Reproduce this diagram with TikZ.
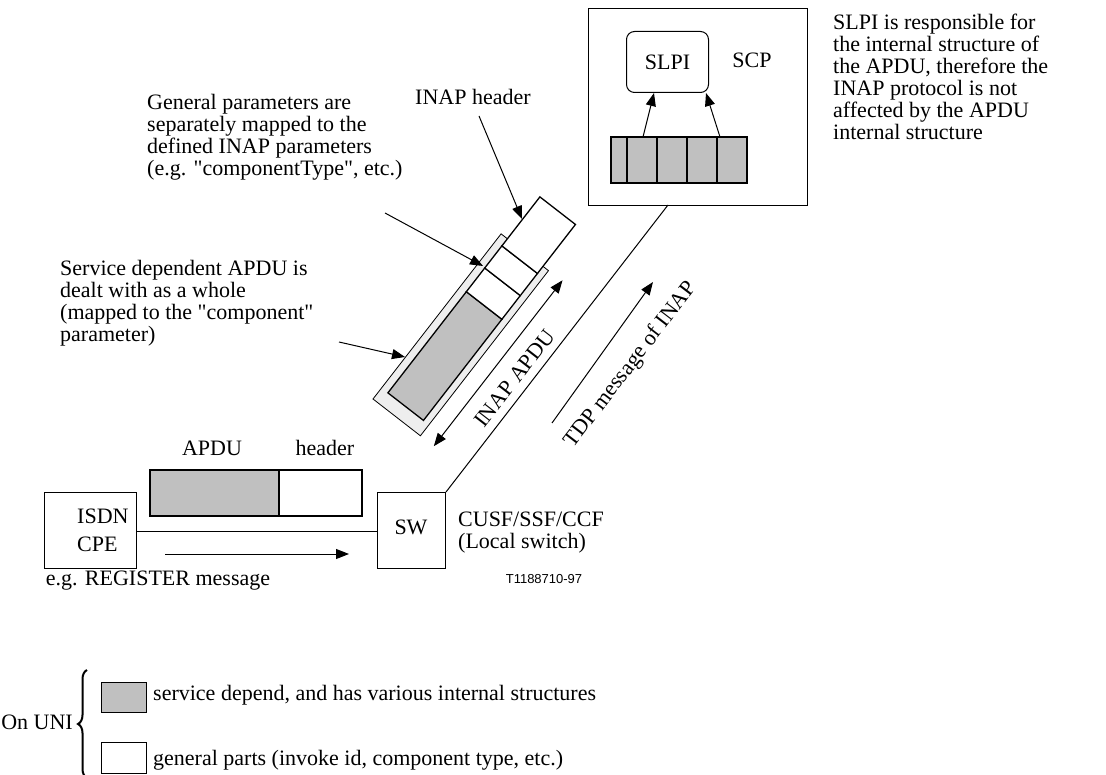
\documentclass[tikz,border=0pt]{standalone}
\usepackage{fontspec}
\setmainfont{Liberation Serif}[Ligatures=TeXOff]
\newfontfamily\arialfont{Liberation Sans}
\usetikzlibrary{arrows.meta,decorations.pathreplacing}
\definecolor{cellgray}{RGB}{192,192,192}
\definecolor{lightfill}{RGB}{238,238,238}
\begin{document}
\begin{tikzpicture}[x=1pt,y=-1pt,
  txt/.style={font=\fontsize{22}{22}\selectfont, inner sep=0pt, align=left},
  box/.style={draw, line width=1pt, inner sep=0pt},
  cell/.style={draw, line width=1.3pt},
  conn/.style={line width=1pt},
  arr/.style={line width=1pt, -{Triangle[length=13pt,width=10pt]}},
  darr/.style={line width=1pt, {Triangle[length=13pt,width=10pt]}-{Triangle[length=13pt,width=10pt]}},
]
\useasboundingbox[fill=white] (0,0) rectangle (1106,775);

% ---------- SCP ----------
\node[box, minimum width=219pt, minimum height=197pt, anchor=north west] (scp) at (588,8) {};
\node[box, rounded corners=8pt, minimum width=82pt, minimum height=61pt, anchor=north west, txt] (slpi) at (626,31) {SLPI};
\node[txt] (scplbl) at (752,60) {SCP};
\foreach \a/\b [count=\i] in {611/627,627/657,657/687,687/717,717/747}{
  \draw[cell, fill=cellgray] (\a,137) rectangle (\b,183);
}
\coordinate (c1) at (643,137);
\coordinate (c2) at (720,137);
\draw[arr] (c1) -- (slpi.south -| 654,0);
\draw[arr] (c2) -- (slpi.south -| 706,0);

\node[txt, anchor=north west] (slpitxt) at (833,14) {SLPI is responsible for\\the internal structure of\\the APDU, therefore the\\INAP protocol is not\\affected by the APDU\\internal structure};

% ---------- lower left ----------
\node[box, minimum width=92pt, minimum height=76pt, anchor=north west] (cpe) at (44,492) {};
\node[txt, anchor=base west] (isdn) at (77,523) {ISDN};
\node[txt, anchor=base west] (cpet) at (77,551) {CPE};
\node[box, minimum width=68pt, minimum height=76pt, anchor=north west] (sw) at (377,492) {};
\node[txt] (swtxt) at (411,527) {SW};
\draw[conn] (cpe.east |- 0,531) -- (sw.west |- 0,531);
\coordinate (m1) at (165,554);
\coordinate (m2) at (349,554);
\draw[arr] (m1) -- (m2);

\draw[line width=1.2pt, fill=cellgray] (150,470) rectangle (279,516);
\draw[line width=1.2pt] (279,470) rectangle (362,516);
\node[txt] (apdulbl) at (212,448) {APDU};
\node[txt] (hdrlbl) at (325,448) {header};

\node[txt, anchor=north west] (cusf) at (458,512) {CUSF/SSF/CCF\\(Local switch)};
\node[txt] (reg) at (158,581) {e.g. REGISTER message};
\node[font=\arialfont\fontsize{13}{15}\selectfont, inner sep=0pt] (tnum) at (544,579) {T1188710-97};

% ---------- line SW - SCP ----------
\coordinate (scpfoot) at (668,205);
\draw[conn] (sw.north east) -- (scpfoot);
\coordinate (t1) at (552,423);
\coordinate (t2) at (653,282);
\draw[arr] (t1) -- (t2);
\node[txt, rotate=52.5] (tdp) at (631,365) {TDP message of INAP};

% ---------- rotated APDU ----------
\begin{scope}[shift={(373,399)}, rotate=52.2]
  \draw[line width=0.8pt, fill=lightfill] (0,0) rectangle (209,60);
  \draw[cell, fill=cellgray] (14,8) rectangle (142,53);
  \draw[cell, fill=white] (142,8) rectangle (172,53);
  \draw[cell, fill=white] (172,8) rectangle (200,53);
  \draw[cell, fill=white] (200,8) rectangle (262,53);
  \coordinate (a1) at (0,77);
  \coordinate (a2) at (210,77);
  \draw[darr] (a1) -- (a2);
  \node[txt, rotate=52.2] (inapapdu) at (103,99) {INAP APDU};
\end{scope}

% ---------- labels with arrows ----------
\node[txt, anchor=base west] (hdr) at (415,105) {INAP header};
\coordinate (h1) at (479,116);
\coordinate (h2) at (522,219);
\draw[arr] (h1) -- (h2);

\node[txt, anchor=north west] (gen) at (147,94) {General parameters are\\separately mapped to the\\defined INAP parameters\\(e.g. "componentType", etc.)};
\coordinate (g1) at (385,213);
\coordinate (g2) at (483,266);
\draw[arr] (g1) -- (g2);

\node[txt, anchor=north west] (svc) at (60,260) {Service dependent APDU is\\dealt with as a whole\\(mapped to the "component"\\parameter)};
\coordinate (v1) at (339,342);
\coordinate (v2) at (405,357);
\draw[arr] (v1) -- (v2);

% ---------- legend ----------
\draw[line width=1pt, fill=cellgray] (101,682) rectangle (146,712);
\draw[line width=1pt] (101,742) rectangle (146,773);
\node[txt, anchor=base west] (l1) at (153,700) {service depend, and has various internal structures};
\node[txt, anchor=base west] (l2) at (153,765) {general parts (invoke id, component type, etc.)};
\draw[line width=2pt, decorate, decoration={brace, amplitude=9pt, raise=0pt}] (87,778) -- (87,670);
\node[txt, anchor=east] (onuni) at (73,722) {On UNI};
\end{tikzpicture}
\end{document}
